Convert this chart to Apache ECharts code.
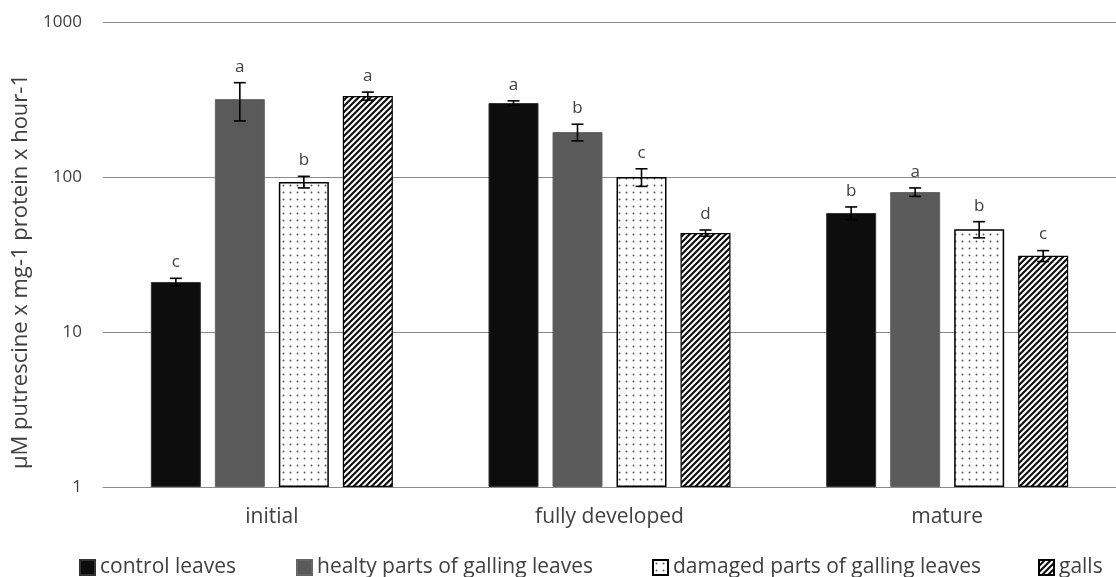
<!DOCTYPE html>
<html><head><meta charset="utf-8">
<script src="https://cdn.jsdelivr.net/npm/echarts@6/dist/echarts.min.js"></script>
<style>html,body{margin:0;padding:0;background:#fff}#c{width:1116px;height:577px}</style>
</head><body><div id="c"></div>
<script>
const categories = ['initial', 'fully developed', 'mature'];
const seriesNames = ['control leaves', 'healty parts of galling leaves', 'damaged parts of galling leaves', 'galls'];
const controlLeaves = [21, 300, 58.6];
const healthyParts = [318, 195, 80];
const damagedParts = [93, 100, 46];
const galls = [333, 43.5, 31];
const controlErr = [1.2, 10, 5.5];
const healthyErr = [88, 24, 5];
const damagedErr = [8, 13, 5.5];
const gallsErr = [20, 2, 2.5];
const controlLetters = ['c', 'a', 'b'];
const healthyLetters = ['a', 'b', 'a'];
const damagedLetters = ['b', 'c', 'b'];
const gallsLetters = ['a', 'd', 'c'];
const yTicks = [1, 10, 100, 1000];
const yTitle = 'μM putrescine x mg-1 protein x hour-1';

const values = [controlLeaves, healthyParts, damagedParts, galls];
const errs = [controlErr, healthyErr, damagedErr, gallsErr];
const letters = [controlLetters, healthyLetters, damagedLetters, gallsLetters];

function dotPattern() {
  const c = document.createElement('canvas'); c.width = 7; c.height = 7;
  const g = c.getContext('2d');
  g.fillStyle = '#fff'; g.fillRect(0, 0, 7, 7);
  g.fillStyle = '#555'; g.beginPath(); g.arc(3.5, 3.5, 0.95, 0, Math.PI * 2); g.fill();
  return c;
}
function hatchPattern() {
  const s = 6;
  const c = document.createElement('canvas'); c.width = s; c.height = s;
  const g = c.getContext('2d');
  g.fillStyle = '#fff'; g.fillRect(0, 0, s, s);
  g.strokeStyle = '#111'; g.lineWidth = 2.2;
  g.beginPath();
  g.moveTo(-1, s + 1); g.lineTo(s + 1, -1);
  g.moveTo(-1, 1); g.lineTo(1, -1);
  g.moveTo(s - 1, s + 1); g.lineTo(s + 1, s - 1);
  g.stroke();
  return c;
}

const styles = [
  { color: '#0d0d0d', borderColor: '#333', borderWidth: 1 },
  { color: '#5a5a5a', borderColor: '#666', borderWidth: 1 },
  { color: { image: dotPattern(), repeat: 'repeat' }, borderColor: '#000', borderWidth: 1.5 },
  { color: { image: hatchPattern(), repeat: 'repeat' }, borderColor: '#000', borderWidth: 1.2 }
];

const errData = [];
values.forEach((arr, s) => arr.forEach((v, i) => errData.push([i, s, v, errs[s][i]])));
const errLetters = [];
values.forEach((arr, s) => arr.forEach((v, i) => errLetters.push(letters[s][i])));

const BAR_W = 50, STEP = 64;
const font = '"Open Sans", "Noto Sans", sans-serif';

const series = seriesNames.map((n, s) => ({
  name: n, type: 'bar', data: values[s], barWidth: BAR_W, barGap: '28%',
  itemStyle: styles[s], emphasis: { disabled: true }
}));
series.push({
  type: 'custom', name: 'err', data: errData, encode: { x: 0, y: 2 }, z: 5,
  renderItem: function (params, api) {
    const cat = api.value(0), s = api.value(1), v = api.value(2), e = api.value(3);
    const top = api.coord([cat, v + e]);
    const bot = api.coord([cat, v - e]);
    const x = top[0] + (s - 1.5) * STEP;
    const st = { stroke: '#000', lineWidth: 1.6 };
    return {
      type: 'group', children: [
        { type: 'line', shape: { x1: x, y1: top[1], x2: x, y2: bot[1] }, style: st },
        { type: 'line', shape: { x1: x - 6, y1: top[1], x2: x + 6, y2: top[1] }, style: st },
        { type: 'line', shape: { x1: x - 6, y1: bot[1], x2: x + 6, y2: bot[1] }, style: st },
        { type: 'text', style: { text: errLetters[params.dataIndex], x: x, y: top[1] - 16, align: 'center', verticalAlign: 'middle', fill: '#404040', font: '17px ' + font } }
      ]
    };
  }
});

const legendLefts = [79, 296, 652, 1038];
const legends = seriesNames.map((n, s) => ({
  data: [n], left: legendLefts[s], top: 557, padding: 0, itemWidth: 15, itemHeight: 15, itemGap: 0,
  icon: 'rect', selectedMode: false,
  textStyle: { fontSize: 21, color: '#404040', fontFamily: font }
}));

const chart = echarts.init(document.getElementById('c'), null, { renderer: 'canvas' });
chart.setOption({
  animation: false,
  backgroundColor: '#fff',
  grid: { left: 103, right: -13, top: 22, bottom: 90 },
  legend: legends,
  xAxis: {
    type: 'category', data: categories,
    axisLine: { lineStyle: { color: '#8a8a8a', width: 1.2 } },
    axisTick: { show: false },
    axisLabel: { fontSize: 21, color: '#404040', fontFamily: font, margin: 20 }
  },
  yAxis: {
    type: 'log', logBase: 10, min: yTicks[0], max: yTicks[yTicks.length - 1],
    name: yTitle, nameLocation: 'middle', nameGap: 68, nameRotate: 90,
    nameTextStyle: { fontSize: 22, color: '#404040', fontFamily: font, padding: [0, 34, 0, 0] },
    axisLine: { show: false }, axisTick: { show: false },
    axisLabel: { fontSize: 17, color: '#404040', fontFamily: font, margin: 21, formatter: v => String(v) },
    splitLine: { lineStyle: { color: '#8a8a8a', width: 1.2 } }
  },
  series: series
});
</script></body></html>
